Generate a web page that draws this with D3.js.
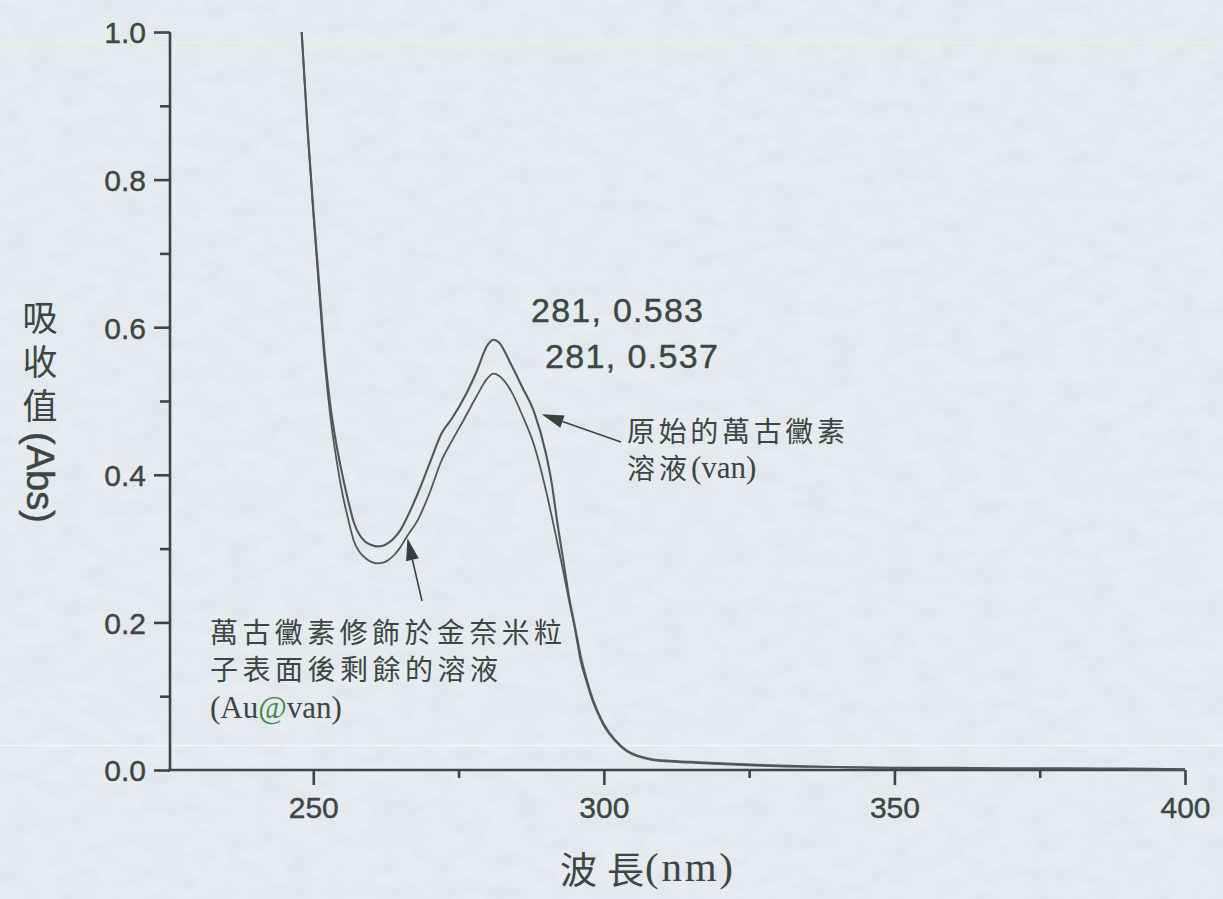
<!DOCTYPE html>
<html>
<head>
<meta charset="utf-8">
<script src="https://cdn.jsdelivr.net/npm/d3@7"></script>
<style>
  html, body { margin: 0; padding: 0; background: #e5eaf0; }
  svg { display: block; }
</style>
</head>
<body>
<svg id="chart" width="1223" height="899"></svg>
<script>
// wavelength (nm) and absorbance of the two spectra
var wavelength = [247, 248, 249, 250, 251, 252, 253, 254, 255, 256, 257, 258, 259, 260, 261, 262, 263, 264, 265, 266,
                  268, 270, 272, 274, 276, 278, 280, 281, 282, 284, 286, 288, 290, 291, 292, 293, 294, 295, 296, 297,
                  298, 299, 300, 302, 304, 306, 308, 310, 315, 320, 330, 340, 350, 360, 370, 380, 390, 400];
var absVan = [1.15, 1.0, 0.87, 0.76, 0.66, 0.56, 0.49, 0.44, 0.40, 0.365, 0.335, 0.318, 0.309, 0.305, 0.303, 0.304, 0.308, 0.315, 0.325, 0.34,
              0.375, 0.415, 0.455, 0.478, 0.505, 0.538, 0.576, 0.583, 0.579, 0.55, 0.518, 0.485, 0.43, 0.39, 0.335, 0.285, 0.235, 0.195, 0.155, 0.124,
              0.098, 0.078, 0.062, 0.04, 0.026, 0.019, 0.015, 0.013, 0.011, 0.009, 0.006, 0.004, 0.003, 0.003, 0.002, 0.002, 0.002, 0.001];
var absAuVan = [1.15, 1.0, 0.87, 0.755, 0.65, 0.55, 0.475, 0.42, 0.375, 0.34, 0.31, 0.295, 0.287, 0.282, 0.28, 0.281, 0.285, 0.292, 0.302, 0.315,
                0.339, 0.375, 0.418, 0.448, 0.476, 0.505, 0.531, 0.537, 0.534, 0.514, 0.48, 0.44, 0.38, 0.345, 0.308, 0.27, 0.23, 0.192, 0.148, 0.12,
                0.095, 0.076, 0.06, 0.039, 0.025, 0.018, 0.014, 0.012, 0.01, 0.008, 0.005, 0.004, 0.003, 0.002, 0.002, 0.002, 0.001, 0.001];

var xMajor = [250, 300, 350, 400];
var xMinor = [275, 325, 375];
var yMajor = [0, 0.2, 0.4, 0.6, 0.8, 1.0];
var yMinor = [0.1, 0.3, 0.5, 0.7, 0.9];

var peakLabels = ["281, 0.583", "281, 0.537"];

var ink = "#3a4742";
var lineInk = "#4d5b54";

var svg = d3.select("#chart");

// scanned paper look
var defs = svg.append("defs");
var f = defs.append("filter").attr("id", "grain").attr("x", 0).attr("y", 0).attr("width", "100%").attr("height", "100%");
f.append("feTurbulence").attr("type", "fractalNoise").attr("baseFrequency", "0.035 0.06").attr("numOctaves", 3).attr("seed", 7);
f.append("feColorMatrix").attr("type", "matrix")
  .attr("values", "0 0 0 0 0.55  0 0 0 0 0.6  0 0 0 0 0.68  0 0 0 -1.1 0.75");
defs.append("clipPath").attr("id", "plotclip")
  .append("rect").attr("x", 168).attr("y", 32).attr("width", 1020).attr("height", 740);

svg.append("rect").attr("width", 1223).attr("height", 899).attr("fill", "#e7ecf2");
svg.append("rect").attr("width", 1223).attr("height", 899).attr("filter", "url(#grain)").attr("opacity", 0.28);
svg.append("line").attr("x1", 0).attr("x2", 1223).attr("y1", 42.5).attr("y2", 42.5)
  .attr("stroke", "#f4f1c8").attr("stroke-width", 1);
svg.append("line").attr("x1", 0).attr("x2", 1223).attr("y1", 745.5).attr("y2", 745.5)
  .attr("stroke", "#f3f5f8").attr("stroke-width", 1.5);

var x = d3.scaleLinear().domain([225, 400]).range([168, 1185]);
var y = d3.scaleLinear().domain([0, 1]).range([770, 32]);

// axes
var yAxis = svg.append("g").attr("transform", "translate(170,0)")
  .call(d3.axisLeft(y).tickValues(yMajor).tickFormat(d3.format(".1f")).tickSize(16).tickSizeOuter(0));
svg.append("g").attr("transform", "translate(170,0)")
  .call(d3.axisLeft(y).tickValues(yMinor).tickFormat("").tickSize(10).tickSizeOuter(0))
  .select(".domain").remove();

var xAxis = svg.append("g").attr("transform", "translate(0,770)")
  .call(d3.axisBottom(x).tickValues(xMajor).tickFormat(d3.format("d")).tickSize(15).tickSizeOuter(0));
svg.append("g").attr("transform", "translate(0,770)")
  .call(d3.axisBottom(x).tickValues(xMinor).tickFormat("").tickSize(8).tickSizeOuter(0))
  .select(".domain").remove();

svg.selectAll(".domain, .tick line").attr("stroke", ink).attr("stroke-width", 2.6);
svg.selectAll(".tick text").attr("fill", ink)
  .attr("stroke", ink).attr("stroke-width", 0.4)
  .style("font-family", "'Liberation Sans', Arial, sans-serif")
  .style("font-size", "30px");
yAxis.selectAll(".tick text").attr("x", -24).attr("dy", "0.36em");
xAxis.selectAll(".tick text").attr("y", 27).attr("dy", "0.71em");
xAxis.select(".domain").attr("d", "M168,0H1185");
yAxis.select(".domain").attr("d", "M0,32V771");

// spectra
var line = d3.line()
  .x(function (d, i) { return x(wavelength[i]); })
  .y(function (d) { return y(d); })
  .curve(d3.curveMonotoneX);

var plot = svg.append("g").attr("clip-path", "url(#plotclip)");
plot.append("path").datum(absAuVan).attr("d", line)
  .attr("fill", "none").attr("stroke", lineInk).attr("stroke-width", 1.8);
plot.append("path").datum(absVan).attr("d", line)
  .attr("fill", "none").attr("stroke", lineInk).attr("stroke-width", 2.1);

// peak values
var peakText = svg.append("g").style("font-family", "'Liberation Sans', Arial, sans-serif")
  .style("font-size", "34px").attr("fill", ink).attr("stroke", ink).attr("stroke-width", 0.4);
peakText.append("text").attr("x", 531).attr("y", 322).attr("textLength", 172).text(peakLabels[0]);
peakText.append("text").attr("x", 545).attr("y", 368).attr("textLength", 173).text(peakLabels[1]);

// arrows, tips sit on the curves
function arrow(tipX, tipY, tailX, tailY) {
  var ang = Math.atan2(tipY - tailY, tipX - tailX);
  var len = 22, half = 6.5;
  var bx = tipX - len * Math.cos(ang), by = tipY - len * Math.sin(ang);
  svg.append("line").attr("x1", tailX).attr("y1", tailY).attr("x2", bx).attr("y2", by)
    .attr("stroke", ink).attr("stroke-width", 1.6);
  svg.append("polygon")
    .attr("points", [
      [tipX, tipY],
      [bx + half * Math.sin(ang), by - half * Math.cos(ang)],
      [bx - half * Math.sin(ang), by + half * Math.cos(ang)]
    ].map(function (p) { return p.join(","); }).join(" "))
    .attr("fill", "#36423d");
}
arrow(x(289.3), y(0.482), 621, 442);
arrow(x(266.2), y(0.314), 422, 601);

// annotations
var cjk = "'Noto Sans CJK TC', 'Noto Sans CJK SC', sans-serif";
var serif = "'Liberation Serif', 'DejaVu Serif', serif";

function note(txt, xPos, yPos, width) {
  svg.append("text").attr("x", xPos).attr("y", yPos).attr("dominant-baseline", "central")
    .attr("textLength", width).attr("lengthAdjust", "spacing")
    .style("font-family", cjk).style("font-size", "28px")
    .attr("fill", ink).text(txt);
}
note("原始的萬古黴素", 627, 430, 218);
var van2 = svg.append("text").attr("x", 627).attr("y", 467).attr("dominant-baseline", "central")
  .attr("fill", ink).style("font-size", "28px");
van2.append("tspan").style("font-family", cjk).attr("letter-spacing", 4).text("溶液");
van2.append("tspan").style("font-family", serif).style("font-size", "31px").text("(van)");

note("萬古黴素修飾於金奈米粒", 210, 631, 352);
note("子表面後剩餘的溶液", 210, 668, 288);
var au = svg.append("text").attr("x", 210).attr("y", 707).attr("dominant-baseline", "central")
  .style("font-family", serif).style("font-size", "31px").attr("fill", ink);
au.append("tspan").text("(Au");
au.append("tspan").attr("fill", "#3f8a45").text("@");
au.append("tspan").text("van)");

// axis titles
var xt = svg.append("g").attr("fill", ink);
xt.append("text").attr("x", 560).attr("y", 868).attr("dominant-baseline", "central")
  .attr("textLength", 84).style("font-family", cjk).style("font-size", "37px").text("波長");
xt.append("text").attr("x", 645).attr("y", 881)
  .attr("textLength", 88).style("font-family", serif).style("font-size", "41px").text("(nm)");

// vertical title: CJK upright, latin part turned, as one text
var yt = svg.append("text").attr("x", 40).attr("y", 300)
  .style("writing-mode", "vertical-rl").style("text-orientation", "mixed")
  .attr("fill", ink);
yt.append("tspan").style("font-family", cjk).style("font-size", "35px").attr("letter-spacing", 9).text("吸收值");
yt.append("tspan").style("font-family", "'Liberation Sans', Arial, sans-serif").style("font-size", "38px")
  .attr("stroke", ink).attr("stroke-width", 0.5).text("(Abs)");
</script>
</body>
</html>
